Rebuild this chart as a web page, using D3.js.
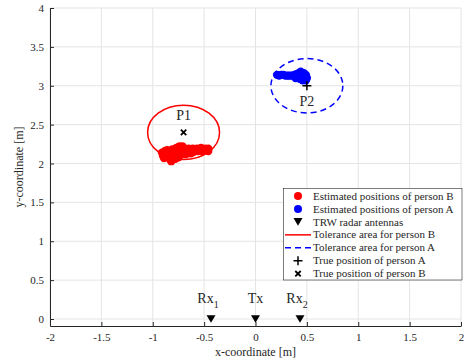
<!DOCTYPE html>
<html>
<head>
<meta charset="utf-8">
<script src="https://cdn.jsdelivr.net/npm/d3@7"></script>
<style>
  html, body { margin: 0; padding: 0; background: #fff; }
  svg { display: block; }
  svg text { font-family: "Liberation Serif", "Times New Roman", serif; }
</style>
</head>
<body>
<svg id="chart" width="466" height="362"></svg>
<script>
// Estimated positions of person B (red track)
const estBX = [-0.91, -0.90, -0.88, -0.87, -0.85, -0.85, -0.83, -0.82, -0.81, -0.80,
               -0.79, -0.77, -0.75, -0.73, -0.72, -0.70, -0.77, -0.75, -0.73, -0.71,
               -0.68, -0.68, -0.65, -0.64, -0.61, -0.60, -0.57, -0.56, -0.53, -0.52,
               -0.49, -0.48, -0.46, -0.46, -0.89, -0.78, -0.73, -0.83, -0.66, -0.58,
               -0.74, -0.71, -0.81, -0.86, -0.63, -0.69];
const estBY = [2.14, 2.10, 2.16, 2.11, 2.15, 2.08, 2.05, 2.03, 2.08, 2.14,
               2.17, 2.20, 2.21, 2.21, 2.21, 2.20, 2.12, 2.08, 2.15, 2.16,
               2.17, 2.12, 2.19, 2.14, 2.19, 2.15, 2.19, 2.16, 2.20, 2.16,
               2.19, 2.17, 2.19, 2.16, 2.07, 2.06, 2.11, 2.11, 2.16, 2.17,
               2.22, 2.22, 2.18, 2.17, 2.13, 2.13];

// Estimated positions of person A (blue track)
const estAX = [0.21, 0.23, 0.25, 0.27, 0.29, 0.31, 0.33, 0.35, 0.37, 0.38,
               0.40, 0.41, 0.42, 0.44, 0.45, 0.46, 0.47, 0.48, 0.49, 0.43,
               0.39, 0.46, 0.50, 0.49];
const estAY = [3.14, 3.13, 3.14, 3.14, 3.13, 3.13, 3.13, 3.13, 3.13, 3.14,
               3.15, 3.11, 3.16, 3.18, 3.14, 3.10, 3.16, 3.13, 3.14, 3.09,
               3.10, 3.07, 3.10, 3.07];

// Radar antennas
const antennaX = [-0.433, 0, 0.433];
const antennaY = [0, 0, 0];
const antennaName = ["Rx", "Tx", "Rx"];
const antennaSub = ["1", "", "2"];

// True positions and tolerance circles
const trueA = [0.5, 3.0];
const trueB = [-0.7, 2.4];
const toleranceRadius = 0.35;
const personLabels = ["P1", "P2"];

// Axis ticks
const xTicks = [-2, -1.5, -1, -0.5, 0, 0.5, 1, 1.5, 2];
const yTicks = [0, 0.5, 1, 1.5, 2, 2.5, 3, 3.5, 4];

const legendLabels = [
  "Estimated positions of person B",
  "Estimated positions of person A",
  "TRW radar antennas",
  "Tolerance area for person B",
  "Tolerance area for person A",
  "True position of person A",
  "True position of person B"
];

const serif = "'Liberation Serif', 'Times New Roman', serif";
const axisColor = "#262626";
const gridColor = "#e4e4e4";

const svg = d3.select("#chart");
const x = d3.scaleLinear().domain([-2, 2]).range([50, 461]);
const y = d3.scaleLinear().domain([-0.09, 4]).range([326, 8]);

// grid
const grid = svg.append("g");
grid.selectAll("line.gx").data(xTicks).join("line")
  .attr("x1", d => x(d)).attr("x2", d => x(d))
  .attr("y1", y.range()[0]).attr("y2", y.range()[1])
  .attr("stroke", gridColor).attr("stroke-width", 1);
grid.selectAll("line.gy").data(yTicks).join("line")
  .attr("x1", x.range()[0]).attr("x2", x.range()[1])
  .attr("y1", d => y(d)).attr("y2", d => y(d))
  .attr("stroke", gridColor).attr("stroke-width", 1);

// axes
const fmt = d => String(d);
const xAxis = svg.append("g").attr("transform", `translate(0,${y.range()[0]})`)
  .call(d3.axisBottom(x).tickValues(xTicks).tickFormat(fmt).tickSizeInner(-4).tickSizeOuter(0).tickPadding(7));
const yAxis = svg.append("g").attr("transform", `translate(${x.range()[0]},0)`)
  .call(d3.axisLeft(y).tickValues(yTicks).tickFormat(fmt).tickSizeInner(-4).tickSizeOuter(0).tickPadding(6));
[xAxis, yAxis].forEach(g => {
  g.attr("font-family", serif).attr("font-size", 11);
  g.selectAll("path.domain").attr("stroke", axisColor).attr("stroke-width", 1);
  g.selectAll(".tick line").attr("stroke", axisColor);
  g.selectAll(".tick text").attr("fill", axisColor);
});

// axis titles
svg.append("text")
  .attr("x", (x.range()[0] + x.range()[1]) / 2).attr("y", 356)
  .attr("text-anchor", "middle").attr("fill", axisColor).style("font-size", "12px")
  .text("x-coordinate [m]");
svg.append("text")
  .attr("transform", `translate(23,${(y.range()[0] + y.range()[1]) / 2}) rotate(-90)`)
  .attr("text-anchor", "middle").attr("fill", axisColor).style("font-size", "12px")
  .text("y-coordinate [m]");

const plot = svg.append("g");
const markerR = 4.2;

// estimated tracks
plot.selectAll("circle.estB").data(d3.range(estBX.length)).join("circle")
  .attr("cx", i => x(estBX[i])).attr("cy", i => y(estBY[i]))
  .attr("r", markerR).attr("fill", "#ff0000");
plot.selectAll("circle.estA").data(d3.range(estAX.length)).join("circle")
  .attr("cx", i => x(estAX[i])).attr("cy", i => y(estAY[i]))
  .attr("r", markerR).attr("fill", "#0000ff");

// antennas
const triangle = (cx, cy, s) => `M${cx - s},${cy - s * 0.85}L${cx + s},${cy - s * 0.85}L${cx},${cy + s * 0.85}Z`;
plot.selectAll("path.ant").data(d3.range(antennaX.length)).join("path")
  .attr("d", i => triangle(x(antennaX[i]), y(antennaY[i]), 4.5))
  .attr("fill", "#000");
const antLabel = plot.selectAll("text.antl").data(d3.range(antennaX.length)).join("text")
  .attr("x", i => x(antennaX[i]) + (antennaSub[i] ? -3 : 0))
  .attr("y", i => y(antennaY[i] + 0.21))
  .attr("text-anchor", "middle").attr("fill", axisColor).style("font-size", "14px");
antLabel.append("tspan").text(i => antennaName[i]);
antLabel.append("tspan").attr("dy", 5).style("font-size", "10px").text(i => antennaSub[i]);

// tolerance circles
const ellipse = (c, r) => plot.append("ellipse")
  .attr("cx", x(c[0])).attr("cy", y(c[1]))
  .attr("rx", x(c[0] + r) - x(c[0])).attr("ry", y(c[1]) - y(c[1] + r))
  .attr("fill", "none");
ellipse(trueB, toleranceRadius).attr("stroke", "#ff0000").attr("stroke-width", 1.5);
ellipse(trueA, toleranceRadius).attr("stroke", "#0000ff").attr("stroke-width", 1.5)
  .attr("stroke-dasharray", "6,4");

// true positions
const plusPath = (cx, cy, s) => `M${cx - s},${cy}H${cx + s}M${cx},${cy - s}V${cy + s}`;
const crossPath = (cx, cy, s) => `M${cx - s},${cy - s}L${cx + s},${cy + s}M${cx - s},${cy + s}L${cx + s},${cy - s}`;
plot.append("path").attr("d", plusPath(x(trueA[0]), y(trueA[1]), 4.5))
  .attr("stroke", "#000").attr("stroke-width", 1.5).attr("fill", "none");
plot.append("path").attr("d", crossPath(x(trueB[0]), y(trueB[1]), 2.7))
  .attr("stroke", "#000").attr("stroke-width", 1.8).attr("fill", "none");

// person labels
plot.append("text").attr("x", x(trueB[0])).attr("y", y(trueB[1] + 0.16))
  .attr("text-anchor", "middle").attr("fill", axisColor).style("font-size", "14px").text(personLabels[0]);
plot.append("text").attr("x", x(trueA[0])).attr("y", y(trueA[1] - 0.26))
  .attr("text-anchor", "middle").attr("fill", axisColor).style("font-size", "14px").text(personLabels[1]);

// legend
const lg = svg.append("g");
const lgX = 283.5, lgY = 188.5, lgW = 178.5, lgH = 91.5, rowH = 12.95, row0 = 196;
lg.append("rect").attr("x", lgX).attr("y", lgY).attr("width", lgW).attr("height", lgH)
  .attr("fill", "#fff").attr("stroke", axisColor).attr("stroke-width", 0.6);
const mx = 298, lx0 = 285, lx1 = 311, tx = 313;
const ry = i => row0 + i * rowH;
lg.append("circle").attr("cx", mx).attr("cy", ry(0)).attr("r", 4).attr("fill", "#ff0000");
lg.append("circle").attr("cx", mx).attr("cy", ry(1)).attr("r", 4).attr("fill", "#0000ff");
lg.append("path").attr("d", triangle(mx, ry(2), 4.5)).attr("fill", "#000");
lg.append("line").attr("x1", lx0).attr("x2", lx1).attr("y1", ry(3)).attr("y2", ry(3))
  .attr("stroke", "#ff0000").attr("stroke-width", 1.5);
lg.append("line").attr("x1", lx0).attr("x2", lx1).attr("y1", ry(4)).attr("y2", ry(4))
  .attr("stroke", "#0000ff").attr("stroke-width", 1.5).attr("stroke-dasharray", "6,4");
lg.append("path").attr("d", plusPath(mx, ry(5), 4.5)).attr("stroke", "#000").attr("stroke-width", 1.5);
lg.append("path").attr("d", crossPath(mx, ry(6), 2.7)).attr("stroke", "#000").attr("stroke-width", 1.8);
lg.selectAll("text.lt").data(legendLabels).join("text")
  .attr("x", tx).attr("y", (d, i) => ry(i)).attr("dy", "0.33em")
  .attr("fill", axisColor).style("font-size", "11px").text(d => d);
</script>
</body>
</html>
